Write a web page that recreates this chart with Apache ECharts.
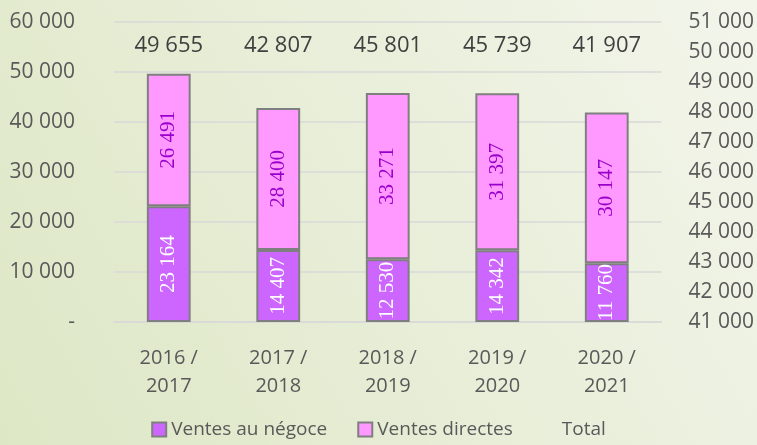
<!DOCTYPE html>
<html>
<head>
<meta charset="utf-8">
<script src="https://cdn.jsdelivr.net/npm/echarts@6/dist/echarts.min.js"></script>
<style>
  html, body { margin: 0; padding: 0; }
  #main { width: 757px; height: 445px; }
</style>
</head>
<body>
<div id="main"></div>
<script>
// données
var campagnes = ['2016 /\n2017', '2017 /\n2018', '2018 /\n2019', '2019 /\n2020', '2020 /\n2021'];
var ventesNegoce = [23164, 14407, 12530, 14342, 11760];
var ventesDirectes = [26491, 28400, 33271, 31397, 30147];
var totaux = [49655, 42807, 45801, 45739, 41907];

function fmt(v) {
  if (v === 0) return '-';
  return String(v).replace(/\B(?=(\d{3})+(?!\d))/g, ' ');
}

var chart = echarts.init(document.getElementById('main'));
var font = 'Open Sans';

var option = {
  backgroundColor: {
    type: 'linear', x: 1, y: 0, x2: 0, y2: 1,
    colorStops: [
      { offset: 0, color: '#f3f5eb' },
      { offset: 1, color: '#dde7c5' }
    ]
  },
  textStyle: { fontFamily: font },
  animation: false,
  legend: {
    bottom: 1,
    left: 'center',
    itemWidth: 14,
    itemHeight: 14,
    itemGap: 30,
    textStyle: { fontSize: 19, color: '#595959', fontFamily: font },
    data: [
      { name: 'Ventes au négoce', icon: 'rect', itemStyle: { borderColor: '#7f7f7f', borderWidth: 2 } },
      { name: 'Ventes directes', icon: 'rect', itemStyle: { borderColor: '#7f7f7f', borderWidth: 2 } },
      { name: 'Total', icon: 'rect', itemStyle: { color: 'rgba(0,0,0,0)', borderWidth: 0 } }
    ]
  },
  grid: { left: 114, right: 95, top: 22, bottom: 123 },
  xAxis: {
    type: 'category',
    data: campagnes,
    axisTick: { show: false },
    axisLine: { lineStyle: { color: '#d9d9d9', width: 1.5 } },
    axisLabel: { fontSize: 20, color: '#595959', lineHeight: 28, margin: 22 }
  },
  yAxis: [
    {
      type: 'value', min: 0, max: 60000, interval: 10000,
      axisLabel: { fontSize: 21, color: '#595959', margin: 39, formatter: fmt },
      splitLine: { lineStyle: { color: '#d9d9d9', width: 1.5 } }
    },
    {
      type: 'value', min: 41000, max: 51000, interval: 1000,
      position: 'right',
      axisLabel: { fontSize: 21, color: '#595959', margin: 27, formatter: fmt },
      splitLine: { show: false },
      axisLine: { show: false },
      axisTick: { show: false }
    }
  ],
  series: [
    {
      name: 'Ventes au négoce',
      type: 'bar',
      stack: 'ventes',
      data: ventesNegoce,
      barWidth: '40%',
      itemStyle: { color: '#cc66ff', borderColor: '#7f7f7f', borderWidth: 2 },
      label: {
        show: true, position: 'inside', rotate: 90,
        fontFamily: 'Liberation Serif', fontSize: 21, color: '#ffffff',
        formatter: function (p) { return fmt(p.value); }
      }
    },
    {
      name: 'Ventes directes',
      type: 'bar',
      stack: 'ventes',
      data: ventesDirectes,
      barWidth: '40%',
      itemStyle: { color: '#ff99ff', borderColor: '#7f7f7f', borderWidth: 2 },
      label: {
        show: true, position: 'inside', rotate: 90,
        fontFamily: 'Liberation Serif', fontSize: 21, color: '#9900cc',
        formatter: function (p) { return fmt(p.value); }
      }
    },
    {
      name: 'Total',
      type: 'line',
      data: totaux,
      symbol: 'circle',
      symbolSize: 1,
      showSymbol: true,
      lineStyle: { opacity: 0 },
      itemStyle: { color: 'rgba(0,0,0,0)' },
      label: {
        show: true, position: 'top',
        fontSize: 22, color: '#404040', fontFamily: font,
        formatter: function (p) { return fmt(p.value); }
      },
      labelLayout: { y: 46, align: 'center', verticalAlign: 'middle' },
      z: 5
    }
  ]
};

chart.setOption(option);
</script>
</body>
</html>
